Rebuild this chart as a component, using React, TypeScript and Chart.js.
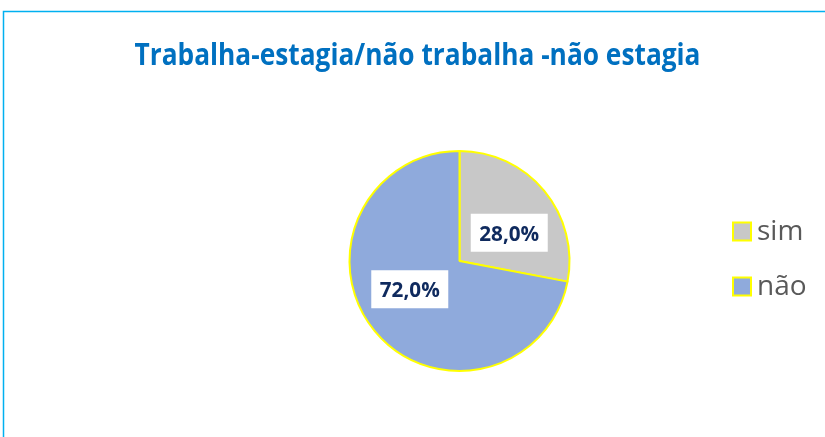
import React, { useEffect, useRef } from "react";
import { Chart, registerables } from "chart.js";

Chart.register(...registerables);

const categories = ["sim", "não"];
const values = [28.0, 72.0];
const colors = ["#C8C8C8", "#8FAADC"];
const titleText = "Trabalha-estagia/não trabalha -não estagia";

const FONT = "'Open Sans', 'Liberation Sans', sans-serif";

const framePlugin = {
  id: "frame",
  beforeDraw(chart: any) {
    const ctx = chart.ctx;
    ctx.save();
    ctx.fillStyle = "#FFFFFF";
    ctx.fillRect(0, 0, chart.width, chart.height);
    ctx.strokeStyle = "#00B0F0";
    ctx.lineWidth = 1.5;
    ctx.strokeRect(3.5, 11.5, chart.width + 10, chart.height + 10);
    ctx.fillStyle = "#0070C0";
    ctx.font = `bold 30px ${FONT}`;
    ctx.textAlign = "center";
    ctx.textBaseline = "alphabetic";
    ctx.fillText(titleText, 417.5, 65, 566);
    ctx.restore();
  },
  afterDraw(chart: any) {
    const ctx = chart.ctx;
    const meta = chart.getDatasetMeta(0);
    ctx.save();
    meta.data.forEach((arc: any, i: number) => {
      const p = arc.getProps(["x", "y", "startAngle", "endAngle", "outerRadius"], true);
      const a = (p.startAngle + p.endAngle) / 2 + (10 * Math.PI) / 180;
      const r = p.outerRadius * 0.52;
      const cx = p.x + Math.cos(a) * r;
      const cy = p.y + Math.sin(a) * r;
      const w = 77, h = 38;
      ctx.fillStyle = "#FFFFFF";
      ctx.fillRect(cx - w / 2, cy - h / 2, w, h);
      ctx.fillStyle = "#0F2A5E";
      ctx.font = `bold 21px ${FONT}`;
      ctx.textAlign = "center";
      ctx.textBaseline = "alphabetic";
      ctx.fillText(values[i].toFixed(1).replace(".", ",") + "%", cx, cy + 8, 60);
    });
    // legend
    categories.forEach((c, i) => {
      const y = 231.5 + i * 55;
      ctx.fillStyle = colors[i];
      ctx.fillRect(733, y - 9, 18, 18);
      ctx.strokeStyle = "#FFFF00";
      ctx.lineWidth = 2;
      ctx.strokeRect(733, y - 9, 18, 18);
      ctx.fillStyle = "#595959";
      ctx.font = `28px ${FONT}`;
      ctx.textAlign = "left";
      ctx.textBaseline = "alphabetic";
      ctx.fillText(c, 757, y + 8.5);
    });
    ctx.restore();
  },
};

export default function App() {
  const ref = useRef<HTMLCanvasElement>(null);
  useEffect(() => {
    document.body.style.margin = "0";
    const chart = new Chart(ref.current!, {
      type: "pie",
      data: {
        labels: categories,
        datasets: [
          {
            data: values,
            backgroundColor: colors,
            borderColor: "#FFFF00",
            borderWidth: 2,
          },
        ],
      },
      options: {
        responsive: false,
        animation: false,
        layout: { padding: { left: 348, right: 254, top: 150, bottom: 65 } },
        plugins: {
          legend: { display: false },
          title: { display: false },
          tooltip: { enabled: false },
        },
      },
      plugins: [framePlugin],
    });
    return () => chart.destroy();
  }, []);
  return (
    <div style={{ width: 825, height: 437 }}>
      <canvas ref={ref} width={825} height={437} />
    </div>
  );
}
